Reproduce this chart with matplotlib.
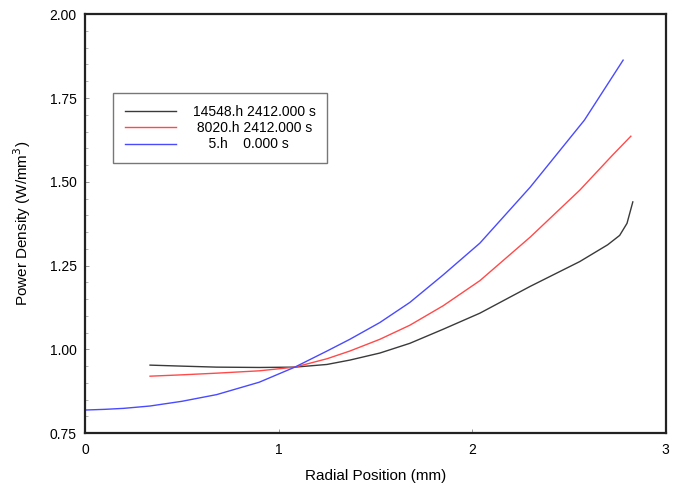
import matplotlib.pyplot as plt
from matplotlib.lines import Line2D
from matplotlib.ticker import MultipleLocator

plt.rcParams['font.family'] = ['Liberation Sans', 'DejaVu Sans']

# values
x_black = [0.336, 0.50, 0.68, 0.90, 1.084, 1.25, 1.368, 1.523, 1.678, 1.85, 2.04, 2.30, 2.556, 2.70, 2.762, 2.80, 2.83]
y_black = [0.953, 0.950, 0.947, 0.946, 0.947, 0.955, 0.968, 0.989, 1.018, 1.060, 1.108, 1.188, 1.262, 1.312, 1.340, 1.376, 1.440]

x_red = [0.336, 0.50, 0.68, 0.90, 1.084, 1.25, 1.368, 1.523, 1.678, 1.85, 2.04, 2.30, 2.556, 2.726, 2.82]
y_red = [0.920, 0.924, 0.929, 0.936, 0.947, 0.972, 0.995, 1.030, 1.072, 1.130, 1.205, 1.335, 1.475, 1.580, 1.636]

x_blue = [0.0, 0.1, 0.2, 0.336, 0.5, 0.68, 0.9, 1.084, 1.25, 1.368, 1.523, 1.678, 1.85, 2.04, 2.30, 2.58, 2.78]
y_blue = [0.819, 0.821, 0.824, 0.831, 0.845, 0.865, 0.902, 0.947, 0.995, 1.030, 1.080, 1.140, 1.222, 1.317, 1.484, 1.684, 1.863]

labels = ['14548.h 2412.000 s', ' 8020.h 2412.000 s', '    5.h    0.000 s']
colors = ['#3a3a3a', '#ff4a4a', '#4a4aff']

fig = plt.figure(figsize=(6.8, 4.9), dpi=100)
ax = fig.add_axes([0.125, 0.116, 0.854, 0.855])

ax.plot(x_black, y_black, color=colors[0], lw=1.0)
ax.plot(x_red, y_red, color=colors[1], lw=1.0)
ax.plot(x_blue, y_blue, color=colors[2], lw=1.0)

ax.set_xlim(0, 3)
ax.set_ylim(0.75, 2.0)
ax.xaxis.set_major_locator(MultipleLocator(1))
ax.yaxis.set_major_locator(MultipleLocator(0.25))
ax.yaxis.set_minor_locator(MultipleLocator(0.05))
ax.yaxis.set_major_formatter(plt.FormatStrFormatter('%.2f'))
ax.tick_params(which='major', direction='in', length=3, width=0.6, color='#888888',
               labelsize=10, pad=6)
ax.tick_params(which='minor', direction='in', length=2, width=0.5, color='#999999')
ax.tick_params(axis='x', which='major', pad=7)
for s in ax.spines.values():
    s.set_linewidth(1.6)
    s.set_color('#222222')

ax.set_xlabel('Radial Position (mm)', fontsize=11, labelpad=9)
ax.set_ylabel('Power Density (W/mm$^3$)', fontsize=11, labelpad=12)

handles = [Line2D([], [], color=c, lw=1.0) for c in colors]
leg = ax.legend(handles, labels, loc='upper left', bbox_to_anchor=(0.048, 0.811),
                borderaxespad=0, fancybox=False, frameon=True, fontsize=10,
                handlelength=3.7, handletextpad=1.2, borderpad=0.85,
                labelspacing=0.15)
leg.get_frame().set_edgecolor('#555555')
leg.get_frame().set_linewidth(1.0)

fig.savefig('out.png', dpi=100)
